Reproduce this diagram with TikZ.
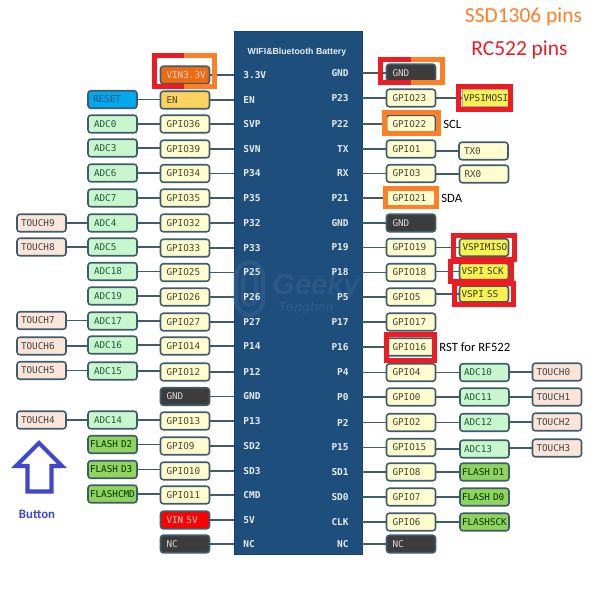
\documentclass[tikz,border=0pt]{standalone}
\usepackage{fontspec}
\setmainfont{Liberation Sans}
\setmonofont{DejaVu Sans Mono}
\newfontfamily\labelfont{Carlito}
\usetikzlibrary{shapes.misc}
\definecolor{chipblue}{HTML}{1D4E7C}
\definecolor{pinedge}{HTML}{3F5C6C}
\definecolor{gpiofill}{HTML}{FFFDD0}
\definecolor{adcfill}{HTML}{C8F7CE}
\definecolor{touchfill}{HTML}{FBE5D8}
\definecolor{flashfill}{HTML}{8FD45C}
\definecolor{spifill}{HTML}{F7F34E}
\definecolor{darkfill}{HTML}{3C3C3C}
\definecolor{enfill}{HTML}{FDD35F}
\definecolor{resetfill}{HTML}{00A8EC}
\definecolor{vinfill}{HTML}{F26A10}
\definecolor{redmark}{HTML}{ED1C24}
\definecolor{orangemark}{HTML}{FF7F27}
\definecolor{arrowblue}{HTML}{3F48CC}
\definecolor{gpiotext}{HTML}{45452A}
\definecolor{adctext}{HTML}{1F5A3A}
\definecolor{lighttext}{HTML}{E6EDF2}
\tikzset{
 x=0.02cm,y=-0.02cm,
 pinbox/.style={draw=pinedge,line width=0.9pt,rounded corners=1.6pt,inner xsep=0.12cm,inner ysep=0pt,text width=0.74cm,align=left,minimum height=0.35cm,font=\ttfamily\fontsize{5.3}{6.4}\selectfont,text=gpiotext},
 tightbox/.style={inner xsep=0.04cm,text width=0.90cm},
 gpio/.style={pinbox,fill=gpiofill},
 adc/.style={pinbox,fill=adcfill,text=adctext},
 touch/.style={pinbox,inner xsep=0.08cm,text width=0.82cm,fill=touchfill,text=black!75},
 flash/.style={pinbox,tightbox,fill=flashfill,text=black!80!green},
 spi/.style={pinbox,tightbox,fill=spifill,text=black!80!olive},
 dark/.style={pinbox,fill=darkfill,text=white!85!black},
 chiplabel/.style={font=\ttfamily\bfseries\fontsize{5.4}{6.4}\selectfont,text=lighttext,inner sep=0pt},
 wire/.style={draw=pinedge,line width=0.9pt},
 markred/.style={draw=redmark,line width=2.8pt,line cap=butt},
 markorange/.style={draw=orangemark,line width=2.8pt,line cap=butt},
 note/.style={font=\labelfont\fontsize{7.2}{8}\selectfont,text=black,anchor=west,inner sep=0pt},
 watermark/.style={font=\bfseries\itshape,text=chipblue!94!white,inner sep=0pt},
}
% #1 chip label, #2 y, #3 name stem, #4 box style, #5 box text
\newcommand{\leftpin}[5]{%
 \node[chiplabel,anchor=west] (cl#3) at (243,#2) {#1};
 \node[#4] (p#3) at (185,#2) {\mbox{#5}};
 \draw[wire] (p#3.east) -- (p#3.east -| chip.west);}
\newcommand{\rightpin}[5]{%
 \node[chiplabel,anchor=east] (cr#3) at (349,#2) {#1};
 \node[#4] (p#3) at (411,#2) {\mbox{#5}};
 \draw[wire] (p#3.west) -- (p#3.west -| chip.east);}
% #1 new node name, #2 parent name, #3 x, #4 y, #5 style, #6 text
\newcommand{\extraL}[6]{%
 \node[#5] (#1) at (#3,#4) {\mbox{#6}};
 \draw[wire] (#1.east) -- (#1.east -| #2.west);}
\newcommand{\extraR}[6]{%
 \node[#5] (#1) at (#3,#4) {\mbox{#6}};
 \draw[wire] (#1.west) -- (#1.west -| #2.east);}
\begin{document}
\begin{tikzpicture}
\useasboundingbox (0,0) rectangle (600,600);
\fill[white] (0,0) rectangle (600,600);
% chip
\node[chamfered rectangle,chamfered rectangle corners={north west,north east},chamfered rectangle xsep=0.44cm,chamfered rectangle ysep=0.42cm,fill=chipblue,draw=chipblue!85!black,line width=0.4pt,minimum width=2.56cm,minimum height=10.46cm,inner sep=0pt] (chip) at (298,292.5) {};
\node[font=\bfseries\fontsize{5}{6}\selectfont,text=lighttext,inner sep=0pt] (chiptitle) at (297,52) {WIFI\&Bluetooth Battery};
% faint watermark
\draw[draw=chipblue!94!white,line width=2.4pt,rounded corners=0.28cm] (236,262) rectangle (263,315);
\draw[draw=chipblue!94!white,line width=2pt,rounded corners=0.14cm] (243,272) rectangle (256,305);
\node[watermark,font=\bfseries\itshape\fontsize{16.5}{18}\selectfont] (wm1) at (316,287) {Geeky};
\node[watermark,font=\bfseries\itshape\fontsize{7.5}{9}\selectfont] (wm2) at (306,308) {Tongban};
% left pins
\leftpin{3.3V}{75}{a}{dark,fill=vinfill}{VIN3.3V}
\leftpin{EN}{100}{b}{pinbox,fill=enfill}{EN}
\leftpin{SVP}{124}{c}{gpio}{GPIO36}
\leftpin{SVN}{149}{d}{gpio}{GPIO39}
\leftpin{P34}{173.5}{e}{gpio}{GPIO34}
\leftpin{P35}{198}{f}{gpio}{GPIO35}
\leftpin{P32}{223}{g}{gpio}{GPIO32}
\leftpin{P33}{248}{h}{gpio}{GPIO33}
\leftpin{P25}{272.5}{i}{gpio}{GPIO25}
\leftpin{P26}{297}{j}{gpio}{GPIO26}
\leftpin{P27}{322}{k}{gpio}{GPIO27}
\leftpin{P14}{346}{l}{gpio}{GPIO14}
\leftpin{P12}{372}{m}{gpio}{GPIO12}
\leftpin{GND}{396.5}{n}{dark}{GND}
\leftpin{P13}{421}{o}{gpio}{GPIO13}
\leftpin{SD2}{446}{q}{gpio}{GPIO9}
\leftpin{SD3}{471}{r}{gpio}{GPIO10}
\leftpin{CMD}{495}{s}{gpio}{GPIO11}
\leftpin{5V}{520}{t}{dark,fill=red}{VIN 5V}
\leftpin{NC}{544}{u}{dark}{NC}
\extraL{reset}{pb}{112.5}{99.5}{pinbox,inner xsep=0.10cm,text width=0.78cm,fill=resetfill,text=chipblue}{RESET}
\extraL{adc0}{pc}{112.5}{124}{adc}{ADC0}
\extraL{adc3}{pd}{112.5}{148}{adc}{ADC3}
\extraL{adc6}{pe}{112.5}{173}{adc}{ADC6}
\extraL{adc7}{pf}{112.5}{198}{adc}{ADC7}
\extraL{adc4}{pg}{112.5}{223}{adc}{ADC4}
\extraL{adc5}{ph}{112.5}{247}{adc}{ADC5}
\extraL{adc18}{pi}{112.5}{271.5}{adc}{ADC18}
\extraL{adc19}{pj}{112.5}{296}{adc}{ADC19}
\extraL{adc17}{pk}{112.5}{321}{adc}{ADC17}
\extraL{adc16}{pl}{112.5}{345}{adc}{ADC16}
\extraL{adc15}{pm}{112.5}{371}{adc}{ADC15}
\extraL{adc14}{po}{112.5}{420}{adc}{ADC14}
\extraL{fd2}{pq}{112.5}{444.5}{flash}{FLASH D2}
\extraL{fd3}{pr}{112.5}{469.5}{flash}{FLASH D3}
\extraL{fcmd}{ps}{112.5}{494}{flash}{FLASHCMD}
\extraL{t9}{adc4}{41.5}{223}{touch}{TOUCH9}
\extraL{t8}{adc5}{41.5}{247}{touch}{TOUCH8}
\extraL{t7}{adc17}{41.5}{320.5}{touch}{TOUCH7}
\extraL{t6}{adc16}{41.5}{346}{touch}{TOUCH6}
\extraL{t5}{adc15}{41.5}{370.5}{touch}{TOUCH5}
\extraL{t4}{adc14}{41.5}{420}{touch}{TOUCH4}
% right pins
\rightpin{GND}{73}{A}{dark}{GND}
\rightpin{P23}{98}{B}{gpio}{GPIO23}
\rightpin{P22}{124}{C}{gpio}{GPIO22}
\rightpin{TX}{149}{D}{gpio}{GPIO1}
\rightpin{RX}{173.5}{E}{gpio}{GPIO3}
\rightpin{P21}{198}{F}{gpio}{GPIO21}
\rightpin{GND}{223}{G}{dark}{GND}
\rightpin{P19}{247.5}{H}{gpio}{GPIO19}
\rightpin{P18}{272.5}{I}{gpio}{GPIO18}
\rightpin{P5}{297}{J}{gpio}{GPIO5}
\rightpin{P17}{322}{K}{gpio}{GPIO17}
\rightpin{P16}{347}{L}{gpio}{GPIO16}
\rightpin{P4}{372.5}{M}{gpio}{GPIO4}
\rightpin{P0}{397}{N}{gpio}{GPIO0}
\rightpin{P2}{422.5}{O}{gpio}{GPIO2}
\rightpin{P15}{447.5}{Q}{gpio}{GPIO15}
\rightpin{SD1}{472}{R}{gpio}{GPIO8}
\rightpin{SD0}{497}{S}{gpio}{GPIO7}
\rightpin{CLK}{522}{T}{gpio}{GPIO6}
\rightpin{NC}{544}{U}{dark}{NC}
\extraR{vmosi}{pB}{485}{98}{spi,draw=black!35,line width=0.3pt,sharp corners,minimum height=0.34cm,text width=0.86cm,inner xsep=0.03cm}{VPSIMOSI}
\extraR{tx0}{pD}{483.5}{151}{pinbox,inner xsep=0.10cm,text width=0.78cm,fill=gpiofill}{TX0}
\extraR{rx0}{pE}{484}{174}{pinbox,inner xsep=0.10cm,text width=0.78cm,fill=gpiofill}{RX0}
\extraR{vmiso}{pH}{484}{247.5}{spi,inner xsep=0.06cm,text width=0.86cm}{VSPIMISO}
\extraR{vsck}{pI}{484}{271.5}{spi,minimum height=0.33cm}{VSPI SCK}
\extraR{vss}{pJ}{484}{294}{spi,minimum height=0.32cm}{VSPI SS}
\extraR{a10}{pM}{484.5}{372.5}{adc,inner xsep=0.08cm,text width=0.82cm}{ADC10}
\extraR{a11}{pN}{484.5}{397}{adc,inner xsep=0.08cm,text width=0.82cm}{ADC11}
\extraR{a12}{pO}{484.5}{422.5}{adc,inner xsep=0.08cm,text width=0.82cm}{ADC12}
\extraR{a13}{pQ}{484.5}{449}{adc,inner xsep=0.08cm,text width=0.82cm}{ADC13}
\extraR{fd1}{pR}{484.5}{472}{flash}{FLASH D1}
\extraR{fd0}{pS}{484.5}{497}{flash}{FLASH D0}
\extraR{fsck}{pT}{484.5}{522}{flash}{FLASHSCK}
\extraR{t0}{a10}{557}{372}{touch}{TOUCH0}
\extraR{t1}{a11}{557}{397}{touch}{TOUCH1}
\extraR{t2}{a12}{557}{422}{touch}{TOUCH2}
\extraR{t3}{a13}{557}{448}{touch}{TOUCH3}
% highlight frames
\draw[markred] (184,55.5) -- (154.5,55.5) -- (154.5,86.5) -- (184,86.5);
\draw[markorange] (184,55.5) -- (214.5,55.5) -- (214.5,86.5) -- (184,86.5);
\draw[markred] (411,59.5) -- (380.5,59.5) -- (380.5,82.5) -- (411,82.5);
\draw[markorange] (411,59.5) -- (442.5,59.5) -- (442.5,82.5) -- (411,82.5);
\draw[markred] (458.5,86.5) rectangle (510.5,109.5);
\draw[markorange] (384.5,112.5) rectangle (438.5,133.5);
\draw[markorange] (385.5,188.5) rectangle (436.5,207);
\draw[markred] (453.5,235.5) rectangle (514.5,259.5);
\draw[markred] (450.5,261.5) rectangle (511.5,281.5);
\draw[markred] (454.5,283.5) rectangle (513.5,304.5);
\draw[markred] (386.5,334.5) rectangle (434.5,360.5);
% notes
\node[note] (scl) at (443,124) {SCL};
\node[note] (sda) at (441,198) {SDA};
\node[note] (rst) at (439,347) {RST for RF522};
\node[font=\labelfont\fontsize{12.2}{14}\selectfont,text=orangemark,inner sep=0pt] (ssd) at (523.5,17) {SSD1306 pins};
\node[font=\labelfont\fontsize{12.2}{14}\selectfont,text=redmark,inner sep=0pt] (rc) at (519.5,50) {RC522 pins};
\node[font=\labelfont\bfseries\fontsize{7.3}{8}\selectfont,text=arrowblue,inner sep=0pt] (btn) at (37,514) {Button};
% button arrow
\draw[draw=arrowblue,line width=2.3pt,line join=miter] (39,443) -- (62,466) -- (51.5,466) -- (51.5,491.5) -- (27.5,491.5) -- (27.5,466) -- (16,466) -- cycle;
\end{tikzpicture}
\end{document}
